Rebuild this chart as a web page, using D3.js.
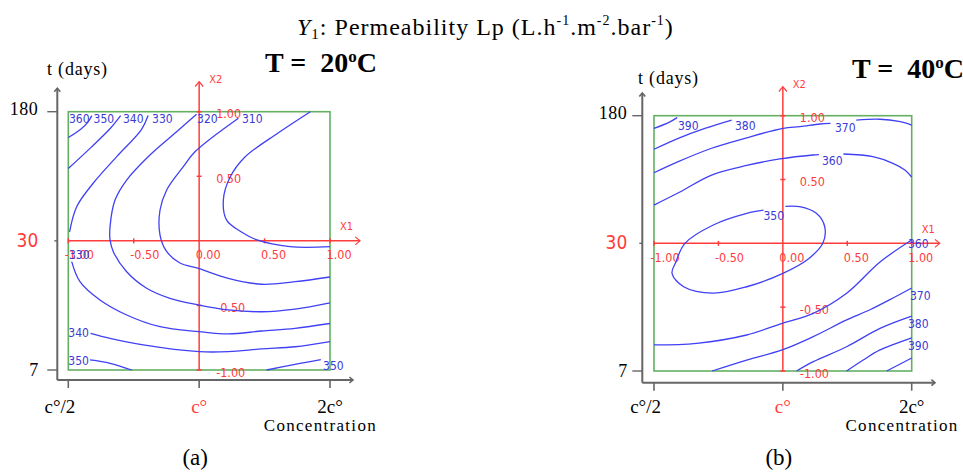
<!DOCTYPE html>
<html><head><meta charset="utf-8">
<script src="https://cdn.jsdelivr.net/npm/d3@7"></script>
<style>body{margin:0;background:#fff}svg{display:block}</style>
</head><body><svg id="chart" width="963" height="475"></svg>
<script>
// ---------- data ----------
const codedTicks = [-1, -0.5, 0, 0.5, 1];
const codedTickLabels = ["-1.00", "-0.50", "0.00", "0.50", "1.00"];
const concTicks = [-1, 0, 1];
const concLabels = ["c°/2", "c°", "2c°"];
const timeTicks = [1, 0, -1];
const timeLabels = ["180", "30", "7"];

// Panel (a) T = 20°C : contour polylines in coded units [X1, X2]; null = gap
const a350top = [[-1, 0.80], [-0.905, 0.864], [-0.85, 0.92], [-0.82, 0.97]];
const a340top = [[-1, 0.56], [-0.83, 0.72], [-0.68, 0.87], [-0.6, 0.97]];
const a330 = [[-0.39, 0.97], [-0.44, 0.864], [-0.63, 0.652], [-0.81, 0.446], [-0.936, 0.264], [-0.99, 0.07], null,
  [-0.974, -0.161], [-0.911, -0.316], [-0.758, -0.458], [-0.554, -0.574], [-0.299, -0.665], [0.0, -0.703],
  [0.223, -0.721], [0.478, -0.698], [0.733, -0.677], [1.0, -0.64]];
const a320 = [[-0.02, 0.98], [-0.172, 0.845], [-0.376, 0.665], [-0.554, 0.471], [-0.643, 0.316], [-0.681, 0.11],
  [-0.681, 0.007], [-0.656, -0.084], [-0.554, -0.239], [-0.401, -0.367], [-0.223, -0.445], [0.0, -0.497],
  [0.223, -0.535], [0.478, -0.549], [0.733, -0.528], [1.0, -0.48]];
const a310 = [[0.30, 0.95], [-0.032, 0.69], [-0.121, 0.574], [-0.248, 0.394], [-0.299, 0.239], [-0.299, 0.045],
  [-0.25, -0.08], [-0.15, -0.17], [0.0, -0.215], [0.223, -0.29], [0.478, -0.336], [0.733, -0.316], [1.0, -0.28]];
const a300 = [[0.85, 1.0], [0.603, 0.835], [0.35, 0.649], [0.235, 0.49], [0.185, 0.316], [0.21, 0.16],
  [0.32, 0.07], [0.442, 0.007], [0.694, -0.045], [1.0, -0.045]];
const a340low = [[-0.83, -0.716], [-0.681, -0.755], [-0.427, -0.806], [0.0, -0.858], [0.223, -0.858],
  [0.478, -0.837], [0.733, -0.82], [1.0, -0.78]];
const a350lowL = [[-0.834, -0.922], [-0.681, -0.948], [-0.515, -1.0]];
const a350lowR = [[0.516, -1.0], [0.733, -0.956], [0.93, -0.92]];
const contoursA = [a350top, a340top, a330, a320, a310, a300, a340low, a350lowL, a350lowR];
const labelTextA = ["360", "350", "340", "330", "320", "310", "330", "340", "350", "350"];
const labelX1A = [-0.995, -0.807, -0.582, -0.36, -0.016, 0.327, -0.995, -1.0, -1.0, 0.947];
const labelX2A = [0.909, 0.909, 0.909, 0.909, 0.909, 0.909, -0.14, -0.744, -0.965, -1.0];

// Panel (b) T = 40°C
const b390top = [[-1, 0.90], [-0.88, 0.95], [-0.82, 0.985]];
const b380top = [[-1, 0.737], [-0.812, 0.823], [-0.605, 0.901], [-0.397, 0.966]];
const b370top = [[-1, 0.553], [-0.812, 0.64], [-0.553, 0.745], [-0.294, 0.823], [0.003, 0.901], [0.133, 0.914],
  [0.288, 0.935], [0.37, 0.94], null, [0.57, 0.966], [0.754, 0.972], [0.9, 0.955], [1.0, 0.927]];
const b360top = [[-1, 0.30], [-0.799, 0.402], [-0.553, 0.535], [-0.281, 0.61], [-0.023, 0.661], [0.234, 0.692],
  [0.28, 0.695], null, [0.47, 0.70], [0.699, 0.679], [0.854, 0.627], [0.947, 0.575], [1.0, 0.52]];
const b350 = [[0.02, 0.29], [0.13, 0.287], [0.26, 0.235], [0.325, 0.13], [0.31, 0.0], [0.2, -0.12], [0.0, -0.235],
  [-0.28, -0.34], [-0.54, -0.39], [-0.77, -0.34], [-0.86, -0.235], [-0.83, -0.146], [-0.76, 0.0], [-0.54, 0.144],
  [-0.28, 0.235], [-0.15, 0.26]];
const b360low = [[1.0, 0.026], [0.754, -0.146], [0.495, -0.391], [0.236, -0.548], [-0.005, -0.626],
  [-0.281, -0.718], [-0.669, -0.783], [-1.0, -0.796]];
const b370low = [[1.0, -0.35], [0.831, -0.441], [0.676, -0.52], [0.495, -0.6], [0.236, -0.731], [-0.005, -0.835],
  [-0.281, -0.914], [-0.55, -1.0]];
const b380low = [[1.0, -0.57], [0.754, -0.666], [0.495, -0.81], [0.236, -0.927], [0.107, -1.0]];
const b390low = [[1.0, -0.74], [0.754, -0.835], [0.624, -0.914], [0.495, -1.0]];
const b400low = [[1.0, -0.898], [0.806, -1.0]];
const contoursB = [b390top, b380top, b370top, b360top, b350, b360low, b370low, b380low, b390low, b400low];
const labelTextB = ["390", "380", "370", "360", "350", "360", "370", "380", "390"];
const labelX1B = [-0.814, -0.372, 0.404, 0.303, -0.151, 0.971, 0.986, 0.971, 0.971];
const labelX2B = [0.888, 0.888, 0.872, 0.614, 0.183, -0.036, -0.444, -0.663, -0.835];

// ---------- drawing ----------
const BLUE = "#4040f4", BLUE_T = "#3a3ad6", RED = "#ff3c3c", GREEN = "#63b063", GRAY = "#666666";
const SANS = "'DejaVu Sans Condensed','DejaVu Sans',sans-serif";
const SERIF = "'Liberation Serif','Times New Roman',serif";
const svg = d3.select("#chart");

// Title
const title = svg.append("text").attr("x", 297).attr("y", 35)
  .attr("font-family", SERIF).attr("font-size", 24).attr("letter-spacing", 1.0).attr("fill", "#000");
title.append("tspan").attr("font-style", "italic").text("Y");
title.append("tspan").attr("font-size", 15).attr("dy", 4).text("1");
title.append("tspan").attr("dy", -4).text(": Permeability Lp (L.h");
title.append("tspan").attr("font-size", 14).attr("dy", -10).text("-1");
title.append("tspan").attr("dy", 10).text(".m");
title.append("tspan").attr("font-size", 14).attr("dy", -10).text("-2");
title.append("tspan").attr("dy", 10).text(".bar");
title.append("tspan").attr("font-size", 14).attr("dy", -10).text("-1");
title.append("tspan").attr("dy", 10).text(")");

function chevron(g, x, y, dir, size, color, width) {
  const s = size;
  const p = dir === "up" ? [[x - s, y + s * 1.2], [x, y], [x + s, y + s * 1.2]]
                         : [[x - s * 1.2, y - s], [x, y], [x - s * 1.2, y + s]];
  g.append("path").attr("d", d3.line()(p)).attr("fill", "none").attr("stroke", color).attr("stroke-width", width);
}

function drawPanel(cfg, contours, lblText, lblX1, lblX2, temp, tag) {
  const g = svg.append("g");
  const x = d3.scaleLinear().domain([-1, 1]).range([cfg.x0, cfg.x1]);
  const y = d3.scaleLinear().domain([-1, 1]).range([cfg.y1, cfg.y0]);

  // Gray outer axes
  g.append("line").attr("x1", cfg.gx).attr("x2", cfg.gx).attr("y1", cfg.gy).attr("y2", cfg.y0 - cfg.gTop)
    .attr("stroke", GRAY).attr("stroke-width", 2);
  chevron(g, cfg.gx, cfg.y0 - cfg.gTop, "up", 3, GRAY, 1.6);
  g.append("line").attr("x1", cfg.gx).attr("x2", cfg.x1 + cfg.gRight).attr("y1", cfg.gy).attr("y2", cfg.gy)
    .attr("stroke", GRAY).attr("stroke-width", 2);
  chevron(g, cfg.x1 + cfg.gRight, cfg.gy, "right", 3, GRAY, 1.6);

  // Concentration ticks
  concTicks.forEach((t, i) => {
    g.append("line").attr("x1", x(t)).attr("x2", x(t)).attr("y1", cfg.gy).attr("y2", cfg.gy + 8)
      .attr("stroke", GRAY).attr("stroke-width", 1.6);
    g.append("text").attr("x", i === 0 ? x(t) + 7 : x(t)).attr("y", 413)
      .attr("text-anchor", i === 0 ? "end" : "middle")
      .attr("font-family", SERIF).attr("font-size", 19)
      .attr("fill", i === 1 ? RED : "#000").text(concLabels[i]);
  });
  g.append("text").attr("x", cfg.x1 + 47).attr("y", 431).attr("text-anchor", "end")
    .attr("font-family", SERIF).attr("font-size", 17).attr("letter-spacing", 1.3).text("Concentration");

  // Time ticks
  timeTicks.forEach((t, i) => {
    const len = i === 1 ? 3 : 10;
    g.append("line").attr("x1", cfg.gx - len).attr("x2", cfg.gx).attr("y1", y(t)).attr("y2", y(t))
      .attr("stroke", GRAY).attr("stroke-width", 1.4);
    g.append("text").attr("x", cfg.gx - cfg.tGap).attr("y", y(t) + (i === 0 ? 3 : 6))
      .attr("text-anchor", "end")
      .attr("font-family", i === 1 ? SANS : SERIF).attr("font-size", i === 1 ? 19 : 18)
      .attr("letter-spacing", i === 0 ? 0.5 : 0)
      .attr("fill", i === 1 ? RED : "#000").text(timeLabels[i]);
  });
  g.append("text").attr("x", cfg.daysX).attr("y", cfg.daysY)
    .attr("font-family", SERIF).attr("font-size", 18).attr("letter-spacing", 0.8).text("t (days)");

  // Green design domain
  g.append("rect").attr("x", x(-1)).attr("y", y(1)).attr("width", x(1) - x(-1)).attr("height", y(-1) - y(1))
    .attr("fill", "none").attr("stroke", GREEN).attr("stroke-width", 1.6);

  // Red coded axes
  g.append("line").attr("x1", x(-1)).attr("x2", x(1) + cfg.rRight).attr("y1", y(0)).attr("y2", y(0))
    .attr("stroke", RED).attr("stroke-width", 1.5);
  chevron(g, x(1) + cfg.rRight, y(0), "right", 4, RED, 1.2);
  g.append("line").attr("x1", x(0)).attr("x2", x(0)).attr("y1", y(-1)).attr("y2", y(1) - cfg.rTop)
    .attr("stroke", RED).attr("stroke-width", 1.5);
  chevron(g, x(0), y(1) - cfg.rTop, "up", 4, RED, 1.2);
  g.append("text").attr("x", x(1) + 10).attr("y", y(0) - 10.5).attr("font-family", SANS).attr("font-size", 11)
    .attr("fill", RED).text("X1");
  g.append("text").attr("x", x(0) + 10).attr("y", y(1) - cfg.rTop + 1).attr("font-family", SANS).attr("font-size", 11)
    .attr("fill", RED).text("X2");

  codedTicks.forEach((t, i) => {
    if (t !== 0) {
      g.append("line").attr("x1", x(t)).attr("x2", x(t)).attr("y1", y(0) - 2.5).attr("y2", y(0) + 2.5)
        .attr("stroke", RED).attr("stroke-width", 1.5);
      g.append("line").attr("x1", x(0) - 2.5).attr("x2", x(0) + 2.5).attr("y1", y(t)).attr("y2", y(t))
        .attr("stroke", RED).attr("stroke-width", 1.5);
    }
    g.append("text").attr("x", x(t) - 3.5).attr("y", y(0) + 18.5)
      .attr("font-family", SANS).attr("font-size", 12.5).attr("fill", RED).text(codedTickLabels[i]);
    if (t !== 0) {
      g.append("text").attr("x", x(0) + 17).attr("y", y(t) + 6.5)
        .attr("font-family", SANS).attr("font-size", 12.5).attr("fill", RED).text(codedTickLabels[i]);
    }
  });

  // Contours
  const line = d3.line().defined(d => d != null).x(d => x(d[0])).y(d => y(d[1]))
    .curve(d3.curveCatmullRom.alpha(0.5));
  contours.forEach(pts => {
    g.append("path").attr("d", line(pts)).attr("fill", "none")
      .attr("stroke", BLUE).attr("stroke-width", 1.3);
  });
  lblText.forEach((t, i) => {
    g.append("text").attr("x", x(lblX1[i])).attr("y", y(lblX2[i]))
      .attr("font-family", SANS).attr("font-size", 12).attr("fill", BLUE_T).text(t);
  });

  // Temperature label
  const tt = g.append("text").attr("x", cfg.tempX).attr("y", cfg.tempY)
    .attr("font-family", SERIF).attr("font-weight", "bold").attr("font-size", 28).attr("fill", "#000");
  tt.append("tspan").text("T = " + "\u00a0" + temp);
  tt.append("tspan").attr("font-size", 17).attr("dy", -10).text("o");
  tt.append("tspan").attr("dy", 10).text("C");

  // Panel tag
  g.append("text").attr("x", x(0) - 4).attr("y", 465).attr("text-anchor", "middle")
    .attr("font-family", SERIF).attr("font-size", 23).text(tag);
}

drawPanel({x0: 68.3, x1: 330, y0: 111.7, y1: 370, gx: 57.3, gy: 380, gTop: 23.5, gRight: 23,
  rRight: 30, rTop: 30, tGap: 19, daysX: 47, daysY: 75, tempX: 265, tempY: 72},
  contoursA, labelTextA, labelX1A, labelX2A, "20", "(a)");
drawPanel({x0: 654, x1: 911.7, y0: 115.7, y1: 371, gx: 642.3, gy: 382.7, gTop: 22.7, gRight: 23.3,
  rRight: 28, rTop: 29, tGap: 15, daysX: 638, daysY: 84, tempX: 852, tempY: 78},
  contoursB, labelTextB, labelX1B, labelX2B, "40", "(b)");
</script>
</body></html>
